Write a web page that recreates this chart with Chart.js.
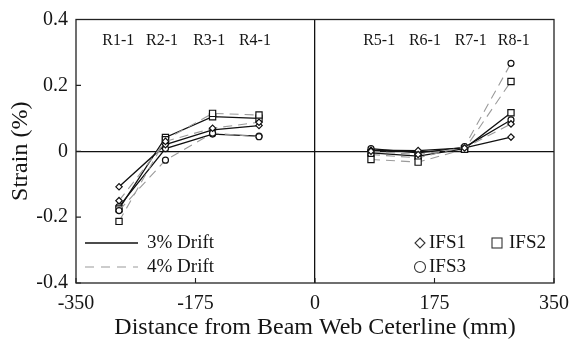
<!DOCTYPE html>
<html>
<head>
<meta charset="utf-8">
<script src="https://cdn.jsdelivr.net/npm/chart.js@4.4.1/dist/chart.umd.min.js"></script>
<style>
  html, body { margin: 0; padding: 0; background: #fff; }
  #wrap { width: 572px; height: 340px; position: relative; }
</style>
</head>
<body>
<div id="wrap"><canvas id="c"></canvas></div>
<script>
// Gauge locations along the flange (mm from beam web centreline)
const gaugePos = [-287, -219, -150, -82, 82, 151, 219, 287];
const gaugeNames = ['R1-1', 'R2-1', 'R3-1', 'R4-1', 'R5-1', 'R6-1', 'R7-1', 'R8-1'];
const gaugeNamePos = [-288, -224, -155, -88, 94, 161, 228, 291];
const gaugeNameY = 0.335;

// Axis ticks
const xTicks = [-350, -175, 0, 175, 350];
const yTicks = [-0.4, -0.2, 0, 0.2, 0.4];

// Strain (%) at each gauge, 3% drift
const ifs1Drift3 = [-0.108, 0.020, 0.065, 0.078, 0.003, 0.002, 0.010, 0.043];
const ifs2Drift3 = [-0.175, 0.042, 0.105, 0.100, -0.005, -0.015, 0.008, 0.117];
const ifs3Drift3 = [-0.168, 0.008, 0.052, 0.046, 0.008, -0.005, 0.012, 0.095];

// Strain (%) at each gauge, 4% drift
const ifs1Drift4 = [-0.150, 0.030, 0.070, 0.088, 0.000, -0.010, 0.010, 0.083];
const ifs2Drift4 = [-0.213, 0.035, 0.115, 0.110, -0.025, -0.033, 0.006, 0.212];
const ifs3Drift4 = [-0.180, -0.027, 0.055, 0.044, -0.010, -0.020, 0.014, 0.267];

const SERIF = '"Liberation Serif", "Times New Roman", serif';
const INK = '#151515';

// Left (R1-R4) and right (R5-R8) groups are drawn as separate polylines
function toPoints(vals) {
  const pts = [];
  vals.forEach((v, i) => {
    if (i === 4) pts.push({ x: 0, y: null });
    pts.push({ x: gaugePos[i], y: v });
  });
  return pts;
}

const solid = { borderColor: '#111', borderWidth: 1.3, borderDash: [] };
const dashed = { borderColor: '#9a9a9a', borderWidth: 1.1, borderDash: [9, 6] };
const marker = {
  diamond: { pointStyle: 'rectRot', pointRadius: 3.2 },
  square: { pointStyle: 'rect', pointRadius: 4.4 },
  circle: { pointStyle: 'circle', pointRadius: 3.0 }
};

function series(label, vals, line, mk) {
  return Object.assign({
    label,
    data: toPoints(vals),
    spanGaps: false,
    tension: 0,
    fill: false,
    pointBorderColor: '#111',
    pointBackgroundColor: '#fff',
    pointBorderWidth: 1.2
  }, line, mk);
}

const datasets = [
  series('IFS1 4%', ifs1Drift4, dashed, marker.diamond),
  series('IFS2 4%', ifs2Drift4, dashed, marker.square),
  series('IFS3 4%', ifs3Drift4, dashed, marker.circle),
  series('IFS1 3%', ifs1Drift3, solid, marker.diamond),
  series('IFS2 3%', ifs2Drift3, solid, marker.square),
  series('IFS3 3%', ifs3Drift3, solid, marker.circle)
];

// Frame, inward tick marks, gauge names and the two legends
const decor = {
  id: 'decor',
  afterDraw(chart) {
    const { ctx, chartArea: a, scales: { x, y } } = chart;
    ctx.save();
    ctx.strokeStyle = '#222';
    ctx.lineWidth = 1.3;
    ctx.strokeRect(a.left, a.top, a.right - a.left, a.bottom - a.top);

    ctx.lineWidth = 1.1;
    ctx.beginPath();
    xTicks.forEach(v => {
      const px = x.getPixelForValue(v);
      ctx.moveTo(px, a.bottom); ctx.lineTo(px, a.bottom - 5);
    });
    yTicks.forEach(v => {
      const py = y.getPixelForValue(v);
      ctx.moveTo(a.left, py); ctx.lineTo(a.left + 5, py);
    });
    ctx.stroke();

    ctx.fillStyle = INK;
    ctx.font = '16px ' + SERIF;
    ctx.textAlign = 'center';
    ctx.textBaseline = 'middle';
    gaugeNames.forEach((n, i) => {
      ctx.fillText(n, x.getPixelForValue(gaugeNamePos[i]), y.getPixelForValue(gaugeNameY));
    });

    // line-style legend
    ctx.font = '19px ' + SERIF;
    ctx.textAlign = 'left';
    const lx0 = a.left + 9, lx1 = a.left + 62;
    const ly1 = 243, ly2 = 267;
    ctx.strokeStyle = '#111'; ctx.lineWidth = 1.3; ctx.setLineDash([]);
    ctx.beginPath(); ctx.moveTo(lx0, ly1); ctx.lineTo(lx1, ly1); ctx.stroke();
    ctx.strokeStyle = '#9a9a9a'; ctx.lineWidth = 1.1; ctx.setLineDash([9, 7]);
    ctx.beginPath(); ctx.moveTo(lx0, ly2); ctx.lineTo(lx1, ly2); ctx.stroke();
    ctx.setLineDash([]);
    ctx.fillText('3% Drift', lx1 + 9, ly1);
    ctx.fillText('4% Drift', lx1 + 9, ly2);

    // specimen legend
    ctx.strokeStyle = '#333'; ctx.lineWidth = 1.1;
    const mx1 = 420, mx2 = 497;
    ctx.beginPath();
    ctx.moveTo(mx1, ly1 - 5); ctx.lineTo(mx1 + 5, ly1); ctx.lineTo(mx1, ly1 + 5); ctx.lineTo(mx1 - 5, ly1); ctx.closePath();
    ctx.stroke();
    ctx.strokeRect(mx2 - 5, ly1 - 5, 10, 10);
    ctx.beginPath(); ctx.arc(mx1, ly2, 5.5, 0, Math.PI * 2); ctx.stroke();
    ctx.fillText('IFS1', mx1 + 9, ly1);
    ctx.fillText('IFS2', mx2 + 12, ly1);
    ctx.fillText('IFS3', mx1 + 9, ly2);
    ctx.restore();
  }
};

new Chart(document.getElementById('c'), {
  type: 'line',
  data: { datasets },
  plugins: [decor],
  options: {
    responsive: true,
    maintainAspectRatio: false,
    animation: false,
    layout: { padding: { top: 19.5, right: 18, left: 0, bottom: 0 } },
    plugins: { legend: { display: false }, tooltip: { enabled: false } },
    scales: {
      x: {
        type: 'linear',
        min: -350, max: 350,
        afterFit: s => { s.height = 57; s.paddingLeft = 0; s.paddingRight = 0; },
        afterBuildTicks: s => { s.ticks = xTicks.map(v => ({ value: v })); },
        ticks: { color: INK, font: { family: SERIF, size: 20 }, padding: 9, maxRotation: 0 },
        grid: {
          drawTicks: false,
          color: c => (c.tick && c.tick.value === 0 ? '#111' : 'rgba(0,0,0,0)'),
          lineWidth: 1.3
        },
        border: { display: false },
        title: {
          display: true, text: 'Distance from Beam Web Ceterline (mm)', color: INK,
          font: { family: SERIF, size: 24, lineHeight: 1 }, padding: { top: 0, bottom: 0 }
        }
      },
      y: {
        min: -0.4, max: 0.4,
        afterFit: s => { s.width = 76; s.paddingTop = 0; s.paddingBottom = 0; },
        afterBuildTicks: s => { s.ticks = yTicks.map(v => ({ value: v })); },
        ticks: {
          color: INK, font: { family: SERIF, size: 20 }, padding: 8,
          callback: v => (Math.abs(v) < 1e-9 ? '0' : String(Math.round(v * 10) / 10))
        },
        grid: {
          drawTicks: false,
          color: c => (c.tick && Math.abs(c.tick.value) < 1e-9 ? '#111' : 'rgba(0,0,0,0)'),
          lineWidth: 1.3
        },
        border: { display: false },
        title: {
          display: true, text: 'Strain (%)', color: INK,
          font: { family: SERIF, size: 24, lineHeight: 1 }, padding: { top: 9, bottom: 0 }
        }
      }
    }
  }
});
</script>
</body>
</html>
